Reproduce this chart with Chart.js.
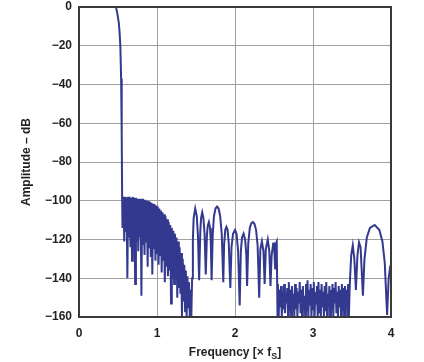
<!DOCTYPE html>
<html>
<head>
<meta charset="utf-8">
<script src="https://cdn.jsdelivr.net/npm/chart.js@4.4.0/dist/chart.umd.min.js"></script>
<style>
  body { margin: 0; background: #fff; }
</style>
</head>
<body>
<canvas id="chart-area" width="424" height="362"></canvas>
<script>
// passband + transition band
var passFreq = [0, 0.3, 0.474, 0.49, 0.51, 0.52, 0.53, 0.54, 0.545, 0.55, 0.553];
var passAmp  = [0, 0, 0, -3, -8, -13, -20, -37, -50, -65, -98];

// dense skirt just above fs/2 (top/bottom of the hairy region)
var skirtFreq = [0.555, 0.56, 0.57, 0.58, 0.59, 0.60, 0.61, 0.62, 0.63, 0.64,
  0.65, 0.66, 0.67, 0.68, 0.69, 0.70, 0.71, 0.72, 0.73, 0.74,
  0.75, 0.76, 0.77, 0.78, 0.79, 0.80, 0.81, 0.82, 0.83, 0.84,
  0.85, 0.86, 0.87, 0.88, 0.89, 0.90, 0.91, 0.92, 0.93, 0.94,
  0.95, 0.96, 0.97, 0.98, 0.99, 1.00, 1.01, 1.02, 1.03, 1.04,
  1.05, 1.06, 1.07, 1.08, 1.09, 1.10, 1.11, 1.12, 1.13, 1.14,
  1.15, 1.16, 1.17, 1.18, 1.19, 1.20, 1.21, 1.22, 1.23, 1.24,
  1.25, 1.26, 1.27, 1.28, 1.29, 1.30, 1.31, 1.32, 1.33, 1.34,
  1.35, 1.36, 1.37, 1.38, 1.39, 1.40, 1.41, 1.42, 1.43, 1.44];
var skirtAmp = [-99, -114, -98, -121, -98, -116, -98.5, -140, -98, -119,
  -98, -124, -98.5, -131, -98, -118, -98.5, -143, -98.5, -121,
  -99, -126, -99, -119, -99, -149, -99, -123, -99.5, -128,
  -99.5, -121, -100, -134, -100, -124, -100.5, -129, -101, -138,
  -101.5, -125, -102, -131, -102.5, -127, -103, -133, -104, -128,
  -105, -137, -106, -131, -107, -142, -108, -134, -109.5, -139,
  -111, -136, -112.5, -153, -114, -140, -115.5, -143, -117, -141,
  -119, -150, -121, -145, -124, -148, -127, -160, -130, -152,
  -133, -157, -136, -160, -139, -155, -142, -160, -146, -160];

// sidelobes between 1.45 and 2.55
var lobeFreq = [1.45, 1.46, 1.47, 1.49, 1.51, 1.525, 1.54, 1.555, 1.565, 1.58,
  1.595, 1.61, 1.625, 1.64, 1.65, 1.665, 1.68, 1.69, 1.70, 1.715,
  1.73, 1.75, 1.77, 1.79, 1.81, 1.83, 1.85, 1.86, 1.875, 1.89,
  1.905, 1.92, 1.94, 1.955, 1.975, 2.00, 2.02, 2.04, 2.06, 2.075,
  2.09, 2.11, 2.13, 2.145, 2.155, 2.17, 2.19, 2.21, 2.23, 2.25,
  2.27, 2.29, 2.31, 2.325, 2.345, 2.365, 2.38, 2.395, 2.42, 2.44,
  2.455, 2.47, 2.49, 2.50, 2.515, 2.525, 2.535, 2.545];
var lobeAmp = [-140, -120, -109, -104, -108, -118, -141, -116, -109, -106,
  -109, -117, -138, -118, -113, -111, -114, -122, -141, -117,
  -108, -104, -103, -104, -108, -117, -142, -123, -115, -113.5,
  -115, -122, -145, -124, -117, -115, -117, -126, -154, -126,
  -119, -117, -120, -128, -144, -122, -114, -111.5, -111, -112,
  -115, -123, -150, -125, -121, -126, -143, -125, -120, -126,
  -144, -128, -122, -122, -135, -122, -121, -160];

// noise floor 2.55 .. 3.47
var floorFreq = [2.55, 2.56, 2.57, 2.58, 2.59, 2.60, 2.61, 2.62, 2.63, 2.64,
  2.65, 2.66, 2.67, 2.68, 2.69, 2.70, 2.71, 2.72, 2.73, 2.74,
  2.75, 2.76, 2.77, 2.78, 2.79, 2.80, 2.81, 2.82, 2.83, 2.84,
  2.85, 2.86, 2.87, 2.88, 2.89, 2.90, 2.91, 2.92, 2.93, 2.94,
  2.95, 2.96, 2.97, 2.98, 2.99, 3.00, 3.01, 3.02, 3.03, 3.04,
  3.05, 3.06, 3.07, 3.08, 3.09, 3.10, 3.11, 3.12, 3.13, 3.14,
  3.15, 3.16, 3.17, 3.18, 3.19, 3.20, 3.21, 3.22, 3.23, 3.24,
  3.25, 3.26, 3.27, 3.28, 3.29, 3.30, 3.31, 3.32, 3.33, 3.34,
  3.35, 3.36, 3.37, 3.38, 3.39, 3.40, 3.41, 3.42, 3.43, 3.44,
  3.45, 3.46, 3.47];
var floorAmp = [-143, -160, -146, -155, -144, -160, -147, -156, -143, -158,
  -148, -153, -145, -160, -142, -157, -146, -160, -144, -154,
  -148, -160, -143, -156, -145, -160, -147, -153, -142, -158,
  -146, -160, -144, -155, -149, -160, -143, -157, -141, -160,
  -146, -154, -143, -160, -145, -156, -142, -160, -147, -153,
  -144, -160, -142, -158, -146, -160, -143, -155, -147, -160,
  -144, -157, -142, -160, -148, -154, -144, -160, -146, -156,
  -143, -160, -145, -153, -142, -158, -147, -160, -144, -155,
  -146, -160, -143, -157, -145, -160, -144, -154, -146, -160,
  -143, -160, -145];

// image lobes near 4 fs
var upperFreq = [3.475, 3.49, 3.51, 3.53, 3.55, 3.57, 3.59, 3.61, 3.64, 3.66,
  3.69, 3.73, 3.79, 3.85, 3.89, 3.92, 3.95, 3.97, 3.99, 4.0];
var upperAmp = [-140, -128, -123, -130, -146, -128, -121.5, -124, -149, -130,
  -119, -114, -112.5, -115, -121, -132, -159, -140, -134, -133];

var freq = passFreq.concat(skirtFreq, lobeFreq, floorFreq, upperFreq);
var amp = passAmp.concat(skirtAmp, lobeAmp, floorAmp, upperAmp);

var points = [];
for (var i = 0; i < freq.length; i++) {
  points.push({ x: freq[i], y: amp[i] });
}

var fontFam = "'Liberation Sans', Arial, Helvetica, sans-serif";
var textColor = '#231f20';

// frame round the plot + x title with subscript
var framePlugin = {
  id: 'frame',
  afterDraw: function(chart) {
    var ctx = chart.ctx;
    var a = chart.chartArea;
    ctx.save();
    ctx.strokeStyle = '#3a3a3a';
    ctx.lineWidth = 2;
    ctx.strokeRect(a.left, a.top, a.right - a.left, a.bottom - a.top);

    // "Frequency [× fS]"
    var big = 'bold 12px ' + fontFam;
    var small = 'bold 9px ' + fontFam;
    var p1 = 'Frequency [× f', p2 = 'S', p3 = ']';
    ctx.font = big;
    var w1 = ctx.measureText(p1).width, w3 = ctx.measureText(p3).width;
    ctx.font = small;
    var w2 = ctx.measureText(p2).width;
    var x = (a.left + a.right) / 2 - (w1 + w2 + w3) / 2;
    var y = 356;
    ctx.fillStyle = textColor;
    ctx.textBaseline = 'alphabetic';
    ctx.textAlign = 'left';
    ctx.font = big;
    ctx.fillText(p1, x, y);
    ctx.font = small;
    ctx.fillText(p2, x + w1, y + 3);
    ctx.font = big;
    ctx.fillText(p3, x + w1 + w2, y);
    ctx.restore();
  }
};

var config = {
  type: 'line',
  data: {
    datasets: [{
      data: points,
      borderColor: '#33398f',
      borderWidth: 2,
      pointRadius: 0,
      tension: 0,
      fill: false
    }]
  },
  options: {
    responsive: false,
    animation: false,
    layout: { padding: { top: 0, right: 33, bottom: 0, left: 0 } },
    plugins: {
      legend: { display: false },
      tooltip: { enabled: false }
    },
    scales: {
      x: {
        type: 'linear',
        min: 0,
        max: 4,
        ticks: {
          stepSize: 1,
          padding: 9,
          color: textColor,
          font: { family: fontFam, size: 12, weight: 'bold' }
        },
        grid: { color: '#a0a0a0', lineWidth: 1, drawTicks: false },
        border: { display: false },
        afterFit: function(scale) { scale.height = 45; }
      },
      y: {
        min: -160,
        max: 0,
        ticks: {
          stepSize: 20,
          padding: 7,
          color: textColor,
          font: { family: fontFam, size: 12, weight: 'bold' },
          callback: function(v) { return String(v).replace('-', '\u2212'); }
        },
        grid: { color: '#a0a0a0', lineWidth: 1, drawTicks: false },
        border: { display: false },
        title: {
          display: true,
          text: 'Amplitude \u2013 dB',
          color: textColor,
          font: { family: fontFam, size: 12, weight: 'bold' },
          padding: { top: 19, bottom: 0 }
        },
        afterFit: function(scale) {
          scale.width = 79;
          scale.paddingTop = 7;
          scale.paddingBottom = 0;
        }
      }
    }
  },
  plugins: [framePlugin]
};

var ctx = document.getElementById('chart-area').getContext('2d');
window.myChart = new Chart(ctx, config);
</script>
</body>
</html>
